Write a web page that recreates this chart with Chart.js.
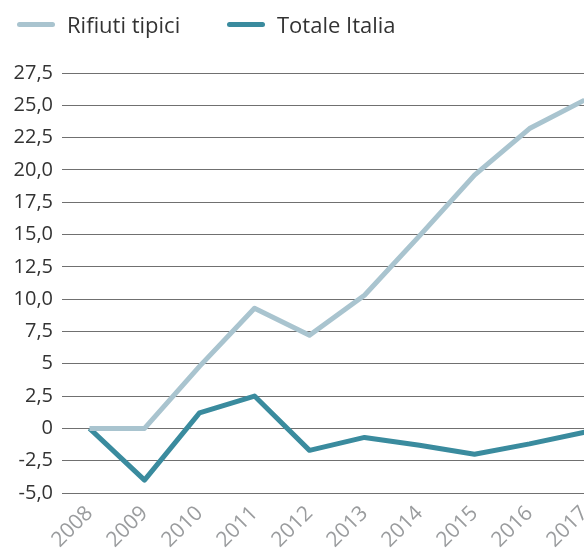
<!DOCTYPE html>
<html>
<head>
<meta charset="utf-8">
<script src="https://cdn.jsdelivr.net/npm/chart.js@4/dist/chart.umd.min.js"></script>
<style>
  html, body { margin: 0; padding: 0; background: #fff; overflow: hidden; }
  #wrap { position: relative; width: 612px; height: 555px; }
  #legend { position: absolute; top: 0; left: 0; width: 584px; height: 50px; font-family: "Open Sans", sans-serif; font-size: 22px; color: #333; }
  #legend .item { position: absolute; top: 11px; display: flex; align-items: center; height: 26px; }
  #legend .item i { display: inline-block; width: 38px; height: 5px; border-radius: 3px; margin-right: 12px; }
</style>
</head>
<body>
<div id="wrap">
  <div id="legend"></div>
  <canvas id="chart"></canvas>
</div>
<script>
const years = ['2008', '2009', '2010', '2011', '2012', '2013', '2014', '2015', '2016', '2017'];
const rifiutiTipici = [0, 0, 4.8, 9.3, 7.2, 10.3, 14.9, 19.6, 23.2, 25.4];
const totaleItalia = [0, -4.0, 1.2, 2.5, -1.7, -0.7, -1.3, -2.0, -1.2, -0.3];
const seriesNames = ['Rifiuti tipici', 'Totale Italia'];
const seriesColors = ['#a9c4cf', '#3a8b9e'];
const yTickLabels = ['-5,0', '-2,5', '0', '2,5', '5', '7,5', '10,0', '12,5', '15,0', '17,5', '20,0', '22,5', '25,0', '27,5'];

// legend drawn as html, one item per series
const legendLeft = [17, 227];
const legendEl = document.getElementById('legend');
seriesNames.forEach((name, i) => {
  const item = document.createElement('span');
  item.className = 'item';
  item.style.left = legendLeft[i] + 'px';
  item.innerHTML = '<i style="background:' + seriesColors[i] + '"></i>' + name;
  legendEl.appendChild(item);
});

const family = '"Open Sans", sans-serif';

new Chart(document.getElementById('chart'), {
  type: 'line',
  data: {
    labels: years,
    datasets: [
      { label: seriesNames[0], data: rifiutiTipici, borderColor: seriesColors[0], borderWidth: 5 },
      { label: seriesNames[1], data: totaleItalia, borderColor: seriesColors[1], borderWidth: 5 },
    ],
  },
  options: {
    responsive: true,
    maintainAspectRatio: false,
    animation: false,
    layout: { padding: { top: 73, left: 0, right: 0, bottom: 0 } },
    elements: {
      point: { radius: 0 },
      line: { tension: 0, borderJoinStyle: 'round', fill: false },
    },
    plugins: {
      legend: { display: false },
      tooltip: { enabled: false },
    },
    scales: {
      x: {
        offset: true,
        grid: { display: false },
        border: { display: false },
        ticks: { color: '#9a9c9e', font: { family, size: 21 }, minRotation: 45, maxRotation: 45, padding: 0 },
        afterFit(scale) { scale.height = 62; },
      },
      y: {
        min: -5,
        max: 27.5,
        grid: { color: '#707070', lineWidth: 1, drawTicks: false },
        border: { display: false },
        ticks: {
          stepSize: 2.5,
          color: '#333',
          font: { family, size: 20 },
          padding: 9,
          callback: (value, index) => yTickLabels[index],
        },
        afterFit(scale) { scale.width = 62; },
      },
    },
  },
});
</script>
</body>
</html>
